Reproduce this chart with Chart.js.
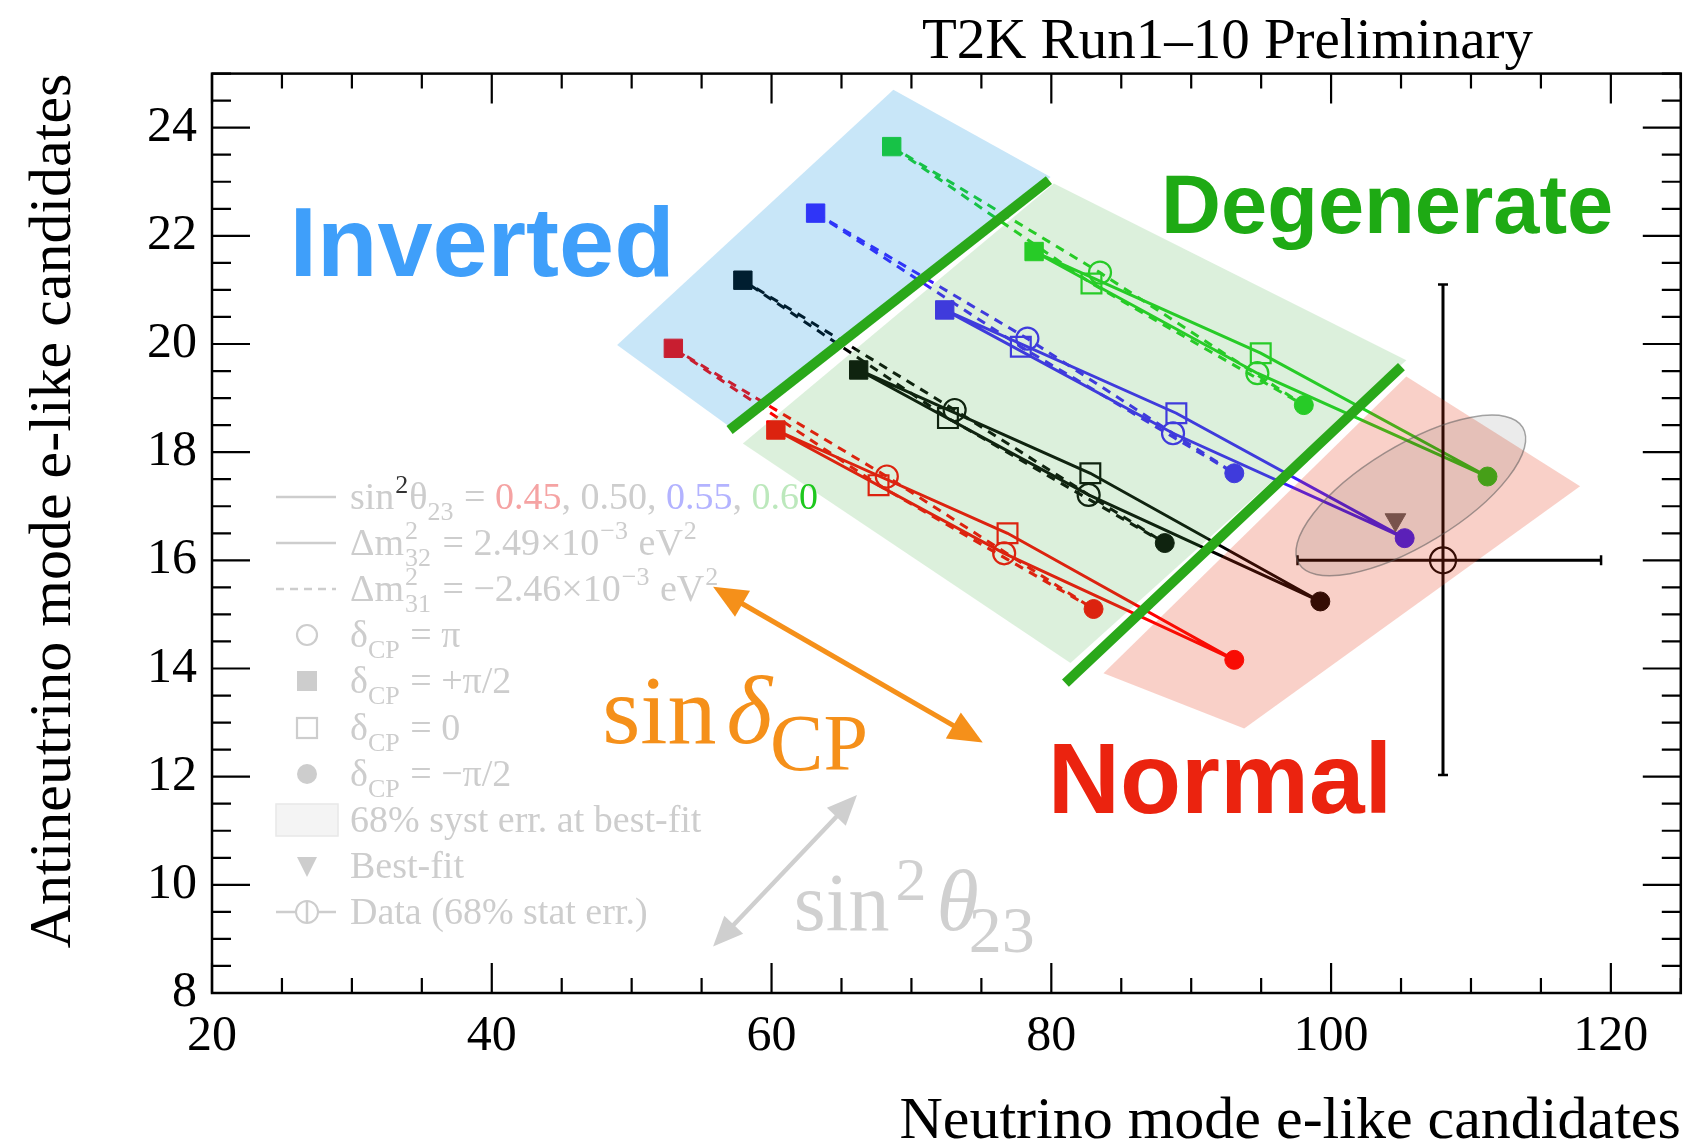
<!DOCTYPE html>
<html><head><meta charset="utf-8">
<script src="https://cdn.jsdelivr.net/npm/chart.js@4.4.1/dist/chart.umd.min.js"></script>
<style>html,body{margin:0;padding:0;background:#fff;overflow:hidden}</style>
</head><body>
<canvas id="c" width="1696" height="1148" style="width:1696px;height:1148px;display:block"></canvas>
<script>
// ---------------- axes ----------------
const xTicks = [20, 40, 60, 80, 100, 120];
const yTicks = [8, 10, 12, 14, 16, 18, 20, 22, 24];
const xRange = [20, 125];
const yRange = [8, 25];
const xMinorStep = 5, xMajorStep = 20;
const yMinorStep = 0.5, yMajorStep = 2;

// ---------------- predictions ----------------
// point order: dCP = +pi/2, pi, -pi/2, 0
const sin2Labels = ['0.45', '0.50', '0.55', '0.60'];
const nh045x = [60.31, 76.63, 93.08, 76.87];
const nh045y = [18.41, 16.13, 14.16, 16.50];
const ih045x = [52.98, 68.24, 83.02, 67.65];
const ih045y = [19.92, 17.55, 15.10, 17.39];
const nh050x = [66.23, 82.67, 99.23, 82.79];
const nh050y = [19.52, 17.21, 15.24, 17.61];
const ih050x = [57.95, 73.09, 88.11, 72.61];
const ih050y = [21.18, 18.78, 16.32, 18.63];
const nh055x = [72.38, 88.70, 105.26, 88.94];
const nh055y = [20.63, 18.35, 16.41, 18.72];
const ih055x = [63.15, 78.29, 93.08, 77.82];
const ih055y = [22.42, 20.10, 17.61, 19.95];
const nh060x = [78.77, 94.73, 111.18, 94.97];
const nh060y = [21.71, 19.46, 17.55, 19.83];
const ih060x = [68.59, 83.48, 98.05, 82.87];
const ih060y = [23.65, 21.32, 18.87, 21.12];

// ---------------- data & best fit ----------------
const dataX = [108.0];
const dataY = [16.0];
const dataErrXLow = [97.6];
const dataErrXHigh = [119.3];
const dataErrYLow = [12.03];
const dataErrYHigh = [21.1];
const bestFitX = [104.6];
const bestFitY = [16.75];
const systCenter = [105.7, 17.2];
const systMajorEnd = [113.7, 18.46];
const systMinorEnd = [107.53, 16.41];

// ---------------- regions ----------------
const invertedX = [48.96, 68.71, 79.95, 57.0];
const invertedY = [19.98, 24.70, 23.09, 18.47];
const degenerateX = [57.95, 80.18, 105.38, 81.37];
const degenerateY = [18.16, 22.97, 19.70, 14.10];
const normalX = [83.73, 105.38, 117.8, 93.79];
const normalY = [13.91, 19.40, 17.37, 12.89];
const boundary1X = [57.0, 79.83];
const boundary1Y = [18.41, 23.03];
const boundary2X = [81.01, 105.03];
const boundary2Y = [13.73, 19.58];
const regionLabels = ['Inverted', 'Degenerate', 'Normal'];
const regionLabelX = [25.54, 87.85, 79.75];
const regionLabelY = [21.26, 22.06, 11.33];
const arrowDeltaX = [55.82, 75.10];
const arrowDeltaY = [15.51, 12.63];
const arrowThetaX = [66.11, 55.82];
const arrowThetaY = [11.66, 8.86];
const deltaLabelXY = [47.89, 12.63];
const thetaLabelXY = [61.59, 9.165];

const COLORS = ['#ff0000', '#000000', '#3c1eff', '#1ed21e'];
const SERIF = '"Liberation Serif", "Times New Roman", serif';
const SANS = '"Liberation Sans", Arial, sans-serif';

function loopDataset(xs, ys, color, dashed) {
  const pts = xs.map((x, i) => ({x, y: ys[i]}));
  pts.push({x: xs[0], y: ys[0]});
  return {
    type: 'scatter', showLine: true, data: pts,
    borderColor: color, borderWidth: 3, borderDash: dashed ? [9, 7] : [],
    tension: 0,
    pointStyle: ['rect', 'circle', 'circle', 'rect', 'rect'],
    pointRadius: [13, 11, 9.5, 14, 0],
    pointBorderWidth: [1, 2.2, 1, 2.2, 0],
    pointBorderColor: color,
    pointBackgroundColor: [color, 'rgba(0,0,0,0)', color, 'rgba(0,0,0,0)', color],
    order: dashed ? 2 : 1
  };
}

const datasets = [
  loopDataset(ih045x, ih045y, COLORS[0], true),
  loopDataset(ih050x, ih050y, COLORS[1], true),
  loopDataset(ih055x, ih055y, COLORS[2], true),
  loopDataset(ih060x, ih060y, COLORS[3], true),
  loopDataset(nh045x, nh045y, COLORS[0], false),
  loopDataset(nh050x, nh050y, COLORS[1], false),
  loopDataset(nh055x, nh055y, COLORS[2], false),
  loopDataset(nh060x, nh060y, COLORS[3], false),
  { type: 'scatter', data: bestFitX.map((x, i) => ({x, y: bestFitY[i]})),
    pointStyle: 'triangle', rotation: 180, pointRadius: 12,
    pointBackgroundColor: '#666666', pointBorderColor: '#666666', pointBorderWidth: 1, order: 0 },
  { type: 'scatter', data: dataX.map((x, i) => ({x, y: dataY[i]})),
    pointStyle: 'circle', pointRadius: 13, pointBackgroundColor: 'rgba(0,0,0,0)',
    pointBorderColor: '#000', pointBorderWidth: 2.2, order: 0 }
];

function richText(ctx, x, y, runs, size, defColor) {
  let cx = x;
  const small = Math.round(size * 0.68);
  for (const r of runs) {
    const col = r.c || defColor;
    if (r.k === 'stack') {
      ctx.font = small + 'px ' + SERIF;
      const w1 = ctx.measureText(r.sup).width, w2 = ctx.measureText(r.sub).width;
      ctx.fillStyle = r.supC || col;
      ctx.fillText(r.sup, cx + 1, y - size * 0.42);
      ctx.fillStyle = col;
      ctx.fillText(r.sub, cx + 1, y + size * 0.3);
      cx += Math.max(w1, w2) + 3;
    } else if (r.k === 'sup') {
      ctx.font = small + 'px ' + SERIF;
      ctx.fillStyle = r.supC || col;
      ctx.fillText(r.t, cx + 1, y - size * 0.42);
      cx += ctx.measureText(r.t).width + 2;
    } else if (r.k === 'sub') {
      ctx.font = small + 'px ' + SERIF;
      ctx.fillStyle = col;
      ctx.fillText(r.t, cx, y + size * 0.3);
      cx += ctx.measureText(r.t).width + 1;
    } else {
      ctx.font = (r.i ? 'italic ' : '') + size + 'px ' + SERIF;
      ctx.fillStyle = col;
      ctx.fillText(r.t, cx, y);
      cx += ctx.measureText(r.t).width;
    }
  }
  return cx;
}

const overlayPlugin = {
  id: 'overlay',
  afterDatasetsDraw(chart) {
    const ctx = chart.ctx;
    const X = v => chart.scales.x.getPixelForValue(v);
    const Y = v => chart.scales.y.getPixelForValue(v);
    const ca = chart.chartArea;
    ctx.save();

    // data error bars
    ctx.strokeStyle = '#000';
    for (let i = 0; i < dataX.length; i++) {
      const cx = X(dataX[i]), cy = Y(dataY[i]);
      const x1 = X(dataErrXLow[i]), x2 = X(dataErrXHigh[i]);
      const y1 = Y(dataErrYLow[i]), y2 = Y(dataErrYHigh[i]);
      ctx.lineWidth = 3;
      ctx.beginPath();
      ctx.moveTo(x1, cy); ctx.lineTo(x2, cy);
      ctx.moveTo(cx, y1); ctx.lineTo(cx, y2);
      ctx.stroke();
      ctx.lineWidth = 2.5;
      ctx.beginPath();
      ctx.moveTo(x1, cy - 5); ctx.lineTo(x1, cy + 5); ctx.moveTo(x2, cy - 5); ctx.lineTo(x2, cy + 5);
      ctx.moveTo(cx - 5, y1); ctx.lineTo(cx + 5, y1); ctx.moveTo(cx - 5, y2); ctx.lineTo(cx + 5, y2);
      ctx.stroke();
    }

    // shaded regions (translucent, drawn over the curves)
    function poly(xs, ys, fill) {
      ctx.beginPath();
      xs.forEach((x, i) => { if (i === 0) ctx.moveTo(X(x), Y(ys[i])); else ctx.lineTo(X(x), Y(ys[i])); });
      ctx.closePath();
      ctx.fillStyle = fill;
      ctx.fill();
    }
    poly(invertedX, invertedY, 'rgba(0,139,222,0.216)');
    poly(degenerateX, degenerateY, 'rgba(76,178,76,0.196)');
    poly(normalX, normalY, 'rgba(228,52,17,0.23)');

    // syst. error ellipse
    {
      const cx = X(systCenter[0]), cy = Y(systCenter[1]);
      const mx = X(systMajorEnd[0]), my = Y(systMajorEnd[1]);
      const nx = X(systMinorEnd[0]), ny = Y(systMinorEnd[1]);
      const a = Math.hypot(mx - cx, my - cy), b = Math.hypot(nx - cx, ny - cy);
      const ang = Math.atan2(my - cy, mx - cx);
      ctx.beginPath();
      ctx.ellipse(cx, cy, a, b, ang, 0, Math.PI * 2);
      ctx.fillStyle = 'rgba(0,0,0,0.08)';
      ctx.fill();
      ctx.strokeStyle = 'rgba(90,90,90,0.55)';
      ctx.lineWidth = 1.5;
      ctx.stroke();
    }

    // thick green boundaries
    ctx.strokeStyle = '#2aa81a';
    ctx.lineWidth = 10;
    ctx.lineCap = 'butt';
    [[boundary1X, boundary1Y], [boundary2X, boundary2Y]].forEach(([bx, by]) => {
      ctx.beginPath();
      ctx.moveTo(X(bx[0]), Y(by[0])); ctx.lineTo(X(bx[1]), Y(by[1]));
      ctx.stroke();
    });

    // region labels
    const labelFonts = ['bold 99px ' + SANS, 'bold 83px ' + SANS, 'bold 100px ' + SANS];
    const labelColors = ['#3f9ffa', '#1eaa14', '#eb230f'];
    ctx.textBaseline = 'alphabetic';
    ctx.textAlign = 'left';
    regionLabels.forEach((t, i) => {
      ctx.font = labelFonts[i];
      ctx.fillStyle = labelColors[i];
      ctx.fillText(t, X(regionLabelX[i]), Y(regionLabelY[i]));
    });

    // arrows
    function head(x, y, a, hl, hw, col) {
      ctx.beginPath();
      ctx.moveTo(x, y);
      ctx.lineTo(x - hl * Math.cos(a) + hw / 2 * Math.sin(a), y - hl * Math.sin(a) - hw / 2 * Math.cos(a));
      ctx.lineTo(x - hl * Math.cos(a) - hw / 2 * Math.sin(a), y - hl * Math.sin(a) + hw / 2 * Math.cos(a));
      ctx.closePath();
      ctx.fillStyle = col; ctx.fill();
    }
    function arrow2(ax, ay, col, lw, hl, hw) {
      const x1 = X(ax[0]), y1 = Y(ay[0]), x2 = X(ax[1]), y2 = Y(ay[1]);
      const a = Math.atan2(y2 - y1, x2 - x1);
      ctx.strokeStyle = col; ctx.lineWidth = lw;
      ctx.beginPath();
      ctx.moveTo(x1 + Math.cos(a) * hl * 0.7, y1 + Math.sin(a) * hl * 0.7);
      ctx.lineTo(x2 - Math.cos(a) * hl * 0.7, y2 - Math.sin(a) * hl * 0.7);
      ctx.stroke();
      head(x2, y2, a, hl, hw, col);
      head(x1, y1, a + Math.PI, hl, hw, col);
    }
    arrow2(arrowDeltaX, arrowDeltaY, '#f5901a', 5, 34, 30);
    arrow2(arrowThetaX, arrowThetaY, '#cfcfcf', 4.5, 30, 26);

    // sin delta_CP label
    {
      let x = X(deltaLabelXY[0]);
      const y = Y(deltaLabelXY[1]);
      ctx.fillStyle = '#f5901a';
      ctx.font = '98px ' + SERIF;
      ctx.fillText('sin', x, y);
      x += ctx.measureText('sin').width + 10;
      ctx.font = 'italic 98px ' + SERIF;
      ctx.fillText('\u03B4', x, y);
      x += ctx.measureText('\u03B4').width - 2;
      ctx.font = '80px ' + SERIF;
      ctx.fillText('CP', x, y + 27);
    }
    // sin^2 theta_23 label
    {
      let x = X(thetaLabelXY[0]);
      const y = Y(thetaLabelXY[1]);
      ctx.fillStyle = '#d0d0d0';
      ctx.font = '82px ' + SERIF;
      ctx.fillText('sin', x, y);
      x += ctx.measureText('sin').width + 6;
      ctx.font = '62px ' + SERIF;
      ctx.fillText('2', x, y - 30);
      x += ctx.measureText('2').width + 10;
      ctx.font = 'italic 86px ' + SERIF;
      ctx.fillText('\u03B8', x, y);
      x += ctx.measureText('\u03B8').width - 10;
      ctx.font = '66px ' + SERIF;
      ctx.fillText('23', x, y + 22);
    }

    // legend
    {
      const gray = '#cdcdcd';
      const rowY = [497, 543, 589, 635, 681, 728, 774, 820, 866, 912];
      const sx1 = 276, sx2 = 336, mx = 307, tx = 350, fs = 38;
      ctx.strokeStyle = gray; ctx.fillStyle = gray; ctx.lineWidth = 2.5;
      ctx.beginPath(); ctx.moveTo(sx1, rowY[0]); ctx.lineTo(sx2, rowY[0]); ctx.stroke();
      ctx.beginPath(); ctx.moveTo(sx1, rowY[1]); ctx.lineTo(sx2, rowY[1]); ctx.stroke();
      ctx.setLineDash([8, 6]);
      ctx.beginPath(); ctx.moveTo(sx1, rowY[2]); ctx.lineTo(sx2, rowY[2]); ctx.stroke();
      ctx.setLineDash([]);
      ctx.lineWidth = 2.2;
      ctx.beginPath(); ctx.arc(mx, rowY[3], 10, 0, Math.PI * 2); ctx.stroke();
      ctx.fillRect(mx - 10, rowY[4] - 10, 20, 20);
      ctx.strokeRect(mx - 10, rowY[5] - 10, 20, 20);
      ctx.beginPath(); ctx.arc(mx, rowY[6], 10, 0, Math.PI * 2); ctx.fill();
      ctx.fillStyle = '#f4f4f4'; ctx.fillRect(sx1, rowY[7] - 16, 62, 32);
      ctx.strokeStyle = '#e8e8e8'; ctx.lineWidth = 1.5; ctx.strokeRect(sx1, rowY[7] - 16, 62, 32);
      ctx.fillStyle = gray;
      ctx.beginPath(); ctx.moveTo(mx - 10, rowY[8] - 9); ctx.lineTo(mx + 10, rowY[8] - 9); ctx.lineTo(mx, rowY[8] + 11); ctx.closePath(); ctx.fill();
      ctx.strokeStyle = gray; ctx.lineWidth = 2.5;
      ctx.beginPath(); ctx.moveTo(sx1, rowY[9]); ctx.lineTo(mx - 11, rowY[9]); ctx.moveTo(mx + 11, rowY[9]); ctx.lineTo(sx2, rowY[9]); ctx.stroke();
      ctx.beginPath(); ctx.moveTo(mx, rowY[9] - 11); ctx.lineTo(mx, rowY[9] + 11); ctx.stroke();
      ctx.lineWidth = 2;
      ctx.beginPath(); ctx.arc(mx, rowY[9], 11, 0, Math.PI * 2); ctx.stroke();

      const b = rowY.map(v => v + 12);
      const m = '\u2212';
      richText(ctx, tx, b[0], [
        {t: 'sin'}, {k: 'sup', t: '2', supC: '#333333'}, {t: '\u03B8'}, {k: 'sub', t: '23'}, {t: ' = '},
        {t: sin2Labels[0], c: '#f5a3a3'}, {t: ', ' + sin2Labels[1] + ', '}, {t: sin2Labels[2], c: '#b3b3ff'},
        {t: ', '}, {t: sin2Labels[3].slice(0, 3), c: '#bce8bc'}, {t: sin2Labels[3].slice(3), c: '#1ec81e'}
      ], fs, gray);
      richText(ctx, tx, b[1], [{t: '\u0394m'}, {k: 'stack', sup: '2', sub: '32'}, {t: ' = 2.49\u00D710'}, {k: 'sup', t: m + '3'}, {t: ' eV'}, {k: 'sup', t: '2'}], fs, gray);
      richText(ctx, tx, b[2], [{t: '\u0394m'}, {k: 'stack', sup: '2', sub: '31'}, {t: ' = ' + m + '2.46\u00D710'}, {k: 'sup', t: m + '3'}, {t: ' eV'}, {k: 'sup', t: '2'}], fs, gray);
      richText(ctx, tx, b[3], [{t: '\u03B4'}, {k: 'sub', t: 'CP'}, {t: ' = \u03C0'}], fs, gray);
      richText(ctx, tx, b[4], [{t: '\u03B4'}, {k: 'sub', t: 'CP'}, {t: ' = +\u03C0/2'}], fs, gray);
      richText(ctx, tx, b[5], [{t: '\u03B4'}, {k: 'sub', t: 'CP'}, {t: ' = 0'}], fs, gray);
      richText(ctx, tx, b[6], [{t: '\u03B4'}, {k: 'sub', t: 'CP'}, {t: ' = ' + m + '\u03C0/2'}], fs, gray);
      richText(ctx, tx, b[7], [{t: '68% syst err. at best-fit'}], fs, gray);
      richText(ctx, tx, b[8], [{t: 'Best-fit'}], fs, gray);
      richText(ctx, tx, b[9], [{t: 'Data (68% stat err.)'}], fs, gray);
    }

    // frame and inward ticks (ROOT style)
    ctx.strokeStyle = '#000';
    ctx.lineWidth = 2.5;
    ctx.strokeRect(ca.left, ca.top, ca.right - ca.left, ca.bottom - ca.top);
    ctx.lineWidth = 2.2;
    ctx.beginPath();
    for (let v = xRange[0]; v <= xRange[1] + 1e-9; v += xMinorStep) {
      const L = (Math.abs((v - xRange[0]) % xMajorStep) < 1e-6) ? 30 : 15;
      const x = X(v);
      ctx.moveTo(x, ca.bottom); ctx.lineTo(x, ca.bottom - L);
      ctx.moveTo(x, ca.top); ctx.lineTo(x, ca.top + L);
    }
    for (let v = yRange[0]; v <= yRange[1] + 1e-9; v += yMinorStep) {
      const L = (Math.abs((v - yRange[0]) % yMajorStep) < 1e-6) ? 38 : 19;
      const y = Y(v);
      ctx.moveTo(ca.left, y); ctx.lineTo(ca.left + L, y);
      ctx.moveTo(ca.right, y); ctx.lineTo(ca.right - L, y);
    }
    ctx.stroke();

    // title
    ctx.font = '57px ' + SERIF;
    ctx.fillStyle = '#000';
    ctx.textAlign = 'right';
    ctx.fillText('T2K Run1\u201310 Preliminary', 1533, 58);
    ctx.restore();
  }
};

new Chart(document.getElementById('c').getContext('2d'), {
  type: 'scatter',
  data: { datasets },
  options: {
    responsive: false, animation: false, devicePixelRatio: 1,
    layout: { padding: { left: 0, right: 5, top: 73.6, bottom: 0 } },
    plugins: { legend: { display: false }, tooltip: { enabled: false }, title: { display: false } },
    scales: {
      x: {
        type: 'linear', position: 'bottom', min: xRange[0], max: xRange[1],
        afterBuildTicks: s => { s.ticks = xTicks.map(v => ({ value: v })); },
        afterFit: s => { s.height = 155; },
        grid: { display: false, drawTicks: false }, border: { display: false },
        ticks: { font: { family: SERIF, size: 50 }, color: '#000', padding: 14, maxRotation: 0, autoSkip: false },
        title: { display: true, text: 'Neutrino mode e-like candidates', align: 'end', color: '#000',
                 font: { family: SERIF, size: 60 }, padding: { top: 0, bottom: -10 } }
      },
      y: {
        type: 'linear', position: 'left', min: yRange[0], max: yRange[1],
        afterBuildTicks: s => { s.ticks = yTicks.map(v => ({ value: v })); },
        afterFit: s => { s.width = 212; },
        grid: { display: false, drawTicks: false }, border: { display: false },
        ticks: { font: { family: SERIF, size: 50 }, color: '#000', padding: 15, autoSkip: false },
        title: { display: true, text: 'Antineutrino mode e-like candidates', align: 'end', color: '#000',
                 font: { family: SERIF, size: 60 }, padding: { top: 18, bottom: 0 } }
      }
    }
  },
  plugins: [overlayPlugin]
});
</script>
</body></html>
